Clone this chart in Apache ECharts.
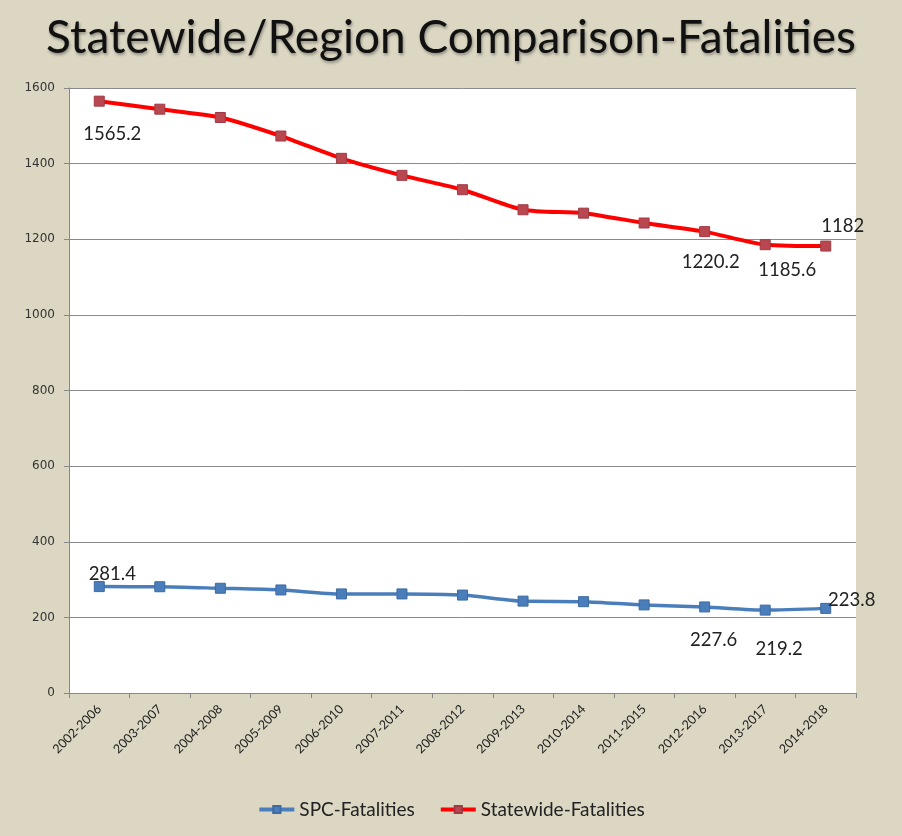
<!DOCTYPE html>
<html><head><meta charset="utf-8">
<script src="https://cdn.jsdelivr.net/npm/echarts@6/dist/echarts.min.js"></script>
<style>html,body{margin:0;padding:0;background:#dbd7c3;}#c{width:902px;height:836px;}</style>
</head><body><div id="c"></div>
<script>
const categories = ['2002-2006','2003-2007','2004-2008','2005-2009','2006-2010','2007-2011','2008-2012','2009-2013','2010-2014','2011-2015','2012-2016','2013-2017','2014-2018'];
const spcValues = [281.4, 281, 277, 272.5, 262, 262, 259, 243, 241.5, 233, 227.6, 219.2, 223.8];
const statewideValues = [1565.2, 1544, 1522, 1473, 1414, 1369, 1331, 1278, 1269, 1243, 1220.2, 1185.6, 1182];
const labeledIdx = [0, 10, 11, 12];
const yTicks = [0, 200, 400, 600, 800, 1000, 1200, 1400, 1600];

const spcOffsets = {0:[13,-13], 10:[9,33], 11:[14,39], 12:[26,-8]};
const stOffsets = {0:[13,33], 10:[6,30], 11:[22,25], 12:[17,-20]};

function build(vals, offs) {
  return vals.map((v, i) => {
    if (labeledIdx.indexOf(i) >= 0) {
      return {value: v, label: {show: true, position: 'inside', offset: offs[i],
        formatter: String(v), fontSize: 18.5, color: '#222', fontFamily: 'Lato'}};
    }
    return v;
  });
}

const chart = echarts.init(document.getElementById('c'));
chart.setOption({
  backgroundColor: '#dbd7c3',
  animation: false,
  title: {text: 'Statewide/Region Comparison-Fatalities', left: 'center', top: 10,
    textStyle: {fontFamily: 'Lato', fontWeight: 'normal', fontSize: 46, color: '#111',
      textShadowColor: 'rgba(0,0,0,0.35)', textShadowBlur: 3, textShadowOffsetX: 1, textShadowOffsetY: 2}},
  legend: {bottom: 12, left: 'center', itemWidth: 35, itemHeight: 9, itemGap: 24,
    lineStyle: {width: 4},
    textStyle: {fontFamily: 'Lato', fontSize: 19, color: '#222'},
    data: ['SPC-Fatalities', 'Statewide-Fatalities']},
  grid: {left: 69, right: 46, top: 88, bottom: 143, show: true, backgroundColor: '#ffffff', borderWidth: 0},
  xAxis: {type: 'category', data: categories, boundaryGap: true,
    axisLine: {lineStyle: {color: '#888', width: 1}},
    axisTick: {show: true, length: 5, lineStyle: {color: '#888'}},
    axisLabel: {rotate: 45, fontSize: 12.5, color: '#1a1a1a', fontFamily: 'Lato', margin: 14, interval: 0}},
  yAxis: {type: 'value', min: 0, max: 1600, interval: 200,
    axisLine: {show: true, lineStyle: {color: '#888'}},
    axisTick: {show: true, length: 5, lineStyle: {color: '#888'}},
    axisLabel: {fontSize: 12, color: '#333', fontFamily: 'DejaVu Sans', margin: 14,
      formatter: v => (yTicks.indexOf(v) >= 0 ? String(v) : '')},
    splitLine: {lineStyle: {color: '#8a8a8a', width: 1}}},
  series: [
    {name: 'SPC-Fatalities', type: 'line', data: build(spcValues, spcOffsets), smooth: 0.25,
      symbol: 'rect', symbolSize: 10,
      lineStyle: {color: '#4a7ebb', width: 3.5},
      itemStyle: {color: '#4a7ebb', borderColor: '#3d6aa3', borderWidth: 1}},
    {name: 'Statewide-Fatalities', type: 'line', data: build(statewideValues, stOffsets), smooth: 0.25,
      symbol: 'rect', symbolSize: 10,
      lineStyle: {color: '#ff0000', width: 4},
      itemStyle: {color: '#b9474f', borderColor: '#a03a44', borderWidth: 1}}
  ]
});
</script></body></html>
